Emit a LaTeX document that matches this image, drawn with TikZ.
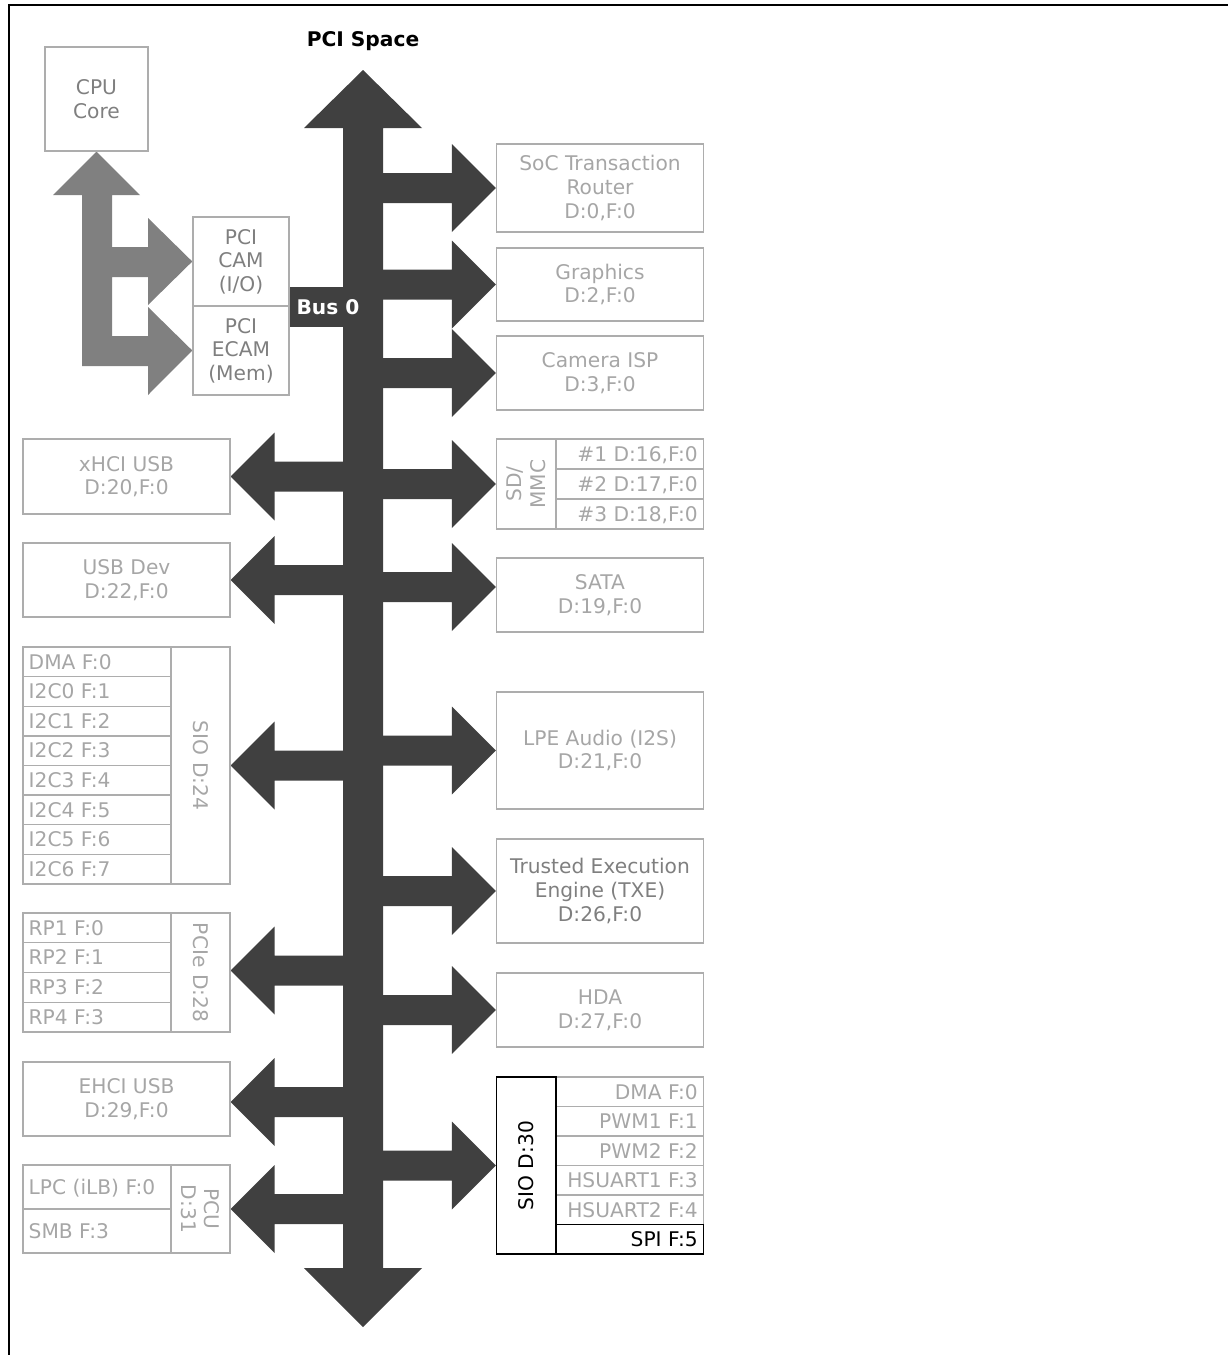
\documentclass[tikz,border=0pt]{standalone}
\usepackage{fontspec}
\setmainfont{DejaVu Sans}
\usetikzlibrary{fit,calc,backgrounds}
\definecolor{busc}{HTML}{404040}
\definecolor{armc}{HTML}{808080}
\definecolor{lgray}{HTML}{A6A6A6}
\definecolor{mgray}{HTML}{7F7F7F}
\definecolor{bordc}{HTML}{ADADAD}
\newcommand\ft{\fontsize{10.1}{11.8}\selectfont}
\newcommand\busR[1]{\fill[busc] (#1) -- ++(-44,-44) -- ++(0,29) -- ++(-75,0) -- ++(0,30) -- ++(75,0) -- ++(0,29) -- cycle;}
\newcommand\busL[1]{\fill[busc] (#1) -- ++(44,-44) -- ++(0,29) -- ++(75,0) -- ++(0,30) -- ++(-75,0) -- ++(0,29) -- cycle;}
\begin{document}
\begin{tikzpicture}[x=0.5pt,y=-0.5pt,
  box/.style={draw=bordc, line width=0.7pt, inner sep=0pt},
  blk/.style={draw=black, line width=0.7pt, inner sep=0pt},
  txt/.style={font=\ft, text=lgray, inner sep=0pt, align=center},
  rowtxt/.style={font=\ft, text=lgray, inner sep=0pt, text height=0.73em, text depth=0pt}]
\useasboundingbox (0,0) rectangle (1228,1355);

% ---- title
\node[font=\ft\bfseries] (title) at (363,41) {PCI Space};

% ---- CPU side
\node[box, fit={(45,47)(148,151)}] (cpu) {};
\node[txt, text=mgray] (cput) at (cpu.center) {CPU\\Core};
\node[box, fit={(193,217)(289,306)}] (cam) {};
\node[txt, text=mgray] (camt) at (cam.center) {PCI\\CAM\\(I/O)};
\node[box, fit={(193,306)(289,395)}] (ecam) {};
\node[txt, text=mgray] (ecamt) at (ecam.center) {PCI\\ECAM\\(Mem)};

% ---- right side boxes
\node[box, fit={(496.5,144)(703.5,232)}] (soc) {};
\node[txt] (soct) at (soc.center) {SoC Transaction\\Router\\D:0,F:0};
\node[box, fit={(496.5,248)(703.5,321)}] (gfx) {};
\node[txt] (gfxt) at (gfx.center) {Graphics\\D:2,F:0};
\node[box, fit={(496.5,336)(703.5,410)}] (isp) {};
\node[txt] (ispt) at (isp.center) {Camera ISP\\D:3,F:0};

\node[box, fit={(496.5,439)(703.5,529)}] (sd) {};
\node[box, fit={(496.5,439)(556,529)}] (sdl) {};
\node[txt, rotate=90] (sdt) at (sdl.center) {SD/\\MMC};
\node[box, fit={(556,439)(703.5,469)}] (sd1) {};
\node[box, fit={(556,469)(703.5,499)}] (sd2) {};
\node[box, fit={(556,499)(703.5,529)}] (sd3) {};
\node[rowtxt, anchor=east] (sd1t) at ([xshift=-3pt]sd1.east) {\#1 D:16,F:0};
\node[rowtxt, anchor=east] (sd2t) at ([xshift=-3pt]sd2.east) {\#2 D:17,F:0};
\node[rowtxt, anchor=east] (sd3t) at ([xshift=-3pt]sd3.east) {\#3 D:18,F:0};

\node[box, fit={(496.5,558)(703.5,632)}] (sata) {};
\node[txt] (satat) at (sata.center) {SATA\\D:19,F:0};
\node[box, fit={(496.5,692)(703.5,809)}] (lpe) {};
\node[txt] (lpet) at (lpe.center) {LPE Audio (I2S)\\D:21,F:0};
\node[box, fit={(496.5,839)(703.5,943)}] (txe) {};
\node[txt, text=mgray] (txet) at (txe.center) {Trusted Execution\\Engine (TXE)\\D:26,F:0};
\node[box, fit={(496.5,973)(703.5,1047)}] (hda) {};
\node[txt] (hdat) at (hda.center) {HDA\\D:27,F:0};

% SIO D:30
\foreach \t [count=\i from 0] in {DMA F:0, PWM1 F:1, PWM2 F:2, HSUART1 F:3, HSUART2 F:4} {
  \pgfmathsetmacro\ya{1077+\i*29.5}
  \pgfmathsetmacro\yb{\ya+29.5}
  \node[box, fit={(556,\ya)(703.5,\yb)}] (sioB\i) {};
  \node[rowtxt, anchor=east] (sioBt\i) at ([xshift=-3pt]sioB\i.east) {\t};
}
\node[blk, fit={(556,1224.5)(703.5,1254)}] (spi) {};
\node[rowtxt, text=black, anchor=east] (spit) at ([xshift=-3pt]spi.east) {SPI F:5};
\node[blk, fit={(496.5,1077)(556,1254)}] (sio30) {};
\node[txt, text=black, rotate=90] (sio30t) at (sio30.center) {SIO D:30};

% ---- left side boxes
\node[box, fit={(23,439)(230,514)}] (xhci) {};
\node[txt] (xhcit) at (xhci.center) {xHCI USB\\D:20,F:0};
\node[box, fit={(23,543)(230,617)}] (usbdev) {};
\node[txt] (usbdevt) at (usbdev.center) {USB Dev\\D:22,F:0};

% SIO D:24
\foreach \t [count=\i from 0] in {DMA F:0, I2C0 F:1, I2C1 F:2, I2C2 F:3, I2C3 F:4, I2C4 F:5, I2C5 F:6, I2C6 F:7} {
  \pgfmathsetmacro\ya{647+\i*29.625}
  \pgfmathsetmacro\yb{\ya+29.625}
  \node[box, fit={(23,\ya)(171,\yb)}] (sioA\i) {};
  \node[rowtxt, anchor=west] (sioAt\i) at ([xshift=3pt]sioA\i.west) {\t};
}
\node[box, fit={(171,647)(230,884)}] (sio24) {};
\node[txt, rotate=-90] (sio24t) at (sio24.center) {SIO D:24};

% PCIe D:28
\foreach \t [count=\i from 0] in {RP1 F:0, RP2 F:1, RP3 F:2, RP4 F:3} {
  \pgfmathsetmacro\ya{913+\i*29.75}
  \pgfmathsetmacro\yb{\ya+29.75}
  \node[box, fit={(23,\ya)(171,\yb)}] (pcieR\i) {};
  \node[rowtxt, anchor=west] (pcieRt\i) at ([xshift=3pt]pcieR\i.west) {\t};
}
\node[box, fit={(171,913)(230,1032)}] (pcie) {};
\node[txt, rotate=-90] (pciet) at (pcie.center) {PCIe D:28};

\node[box, fit={(23,1062)(230,1136)}] (ehci) {};
\node[txt] (ehcit) at (ehci.center) {EHCI USB\\D:29,F:0};

% PCU D:31
\node[box, fit={(23,1165)(171,1209)}] (lpc) {};
\node[rowtxt, anchor=west] (lpct) at ([xshift=3pt]lpc.west) {LPC (iLB) F:0};
\node[box, fit={(23,1209)(171,1253)}] (smb) {};
\node[rowtxt, anchor=west] (smbt) at ([xshift=3pt]smb.west) {SMB F:3};
\node[box, fit={(171,1165)(230,1253)}] (pcu) {};
\node[txt, rotate=-90] (pcut) at (pcu.center) {PCU\\D:31};

% ---- connectors (on background)
\begin{scope}[on background layer]
  % CPU <-> CAM/ECAM arm
  \fill[armc] (cpu.south) -- (140,195) -- (112,195) -- (112,247) -- (148,247) -- (148,218)
     -- (cam.west) -- (148,305) -- (148,277) -- (112,277) -- (112,336) -- (148,336) -- (148,307)
     -- (ecam.west) -- (148,395) -- (148,366) -- (82,366) -- (82,195) -- (53,195) -- cycle;
  % main bus
  \coordinate (bustop) at (363,70);
  \coordinate (busbot) at (363,1327);
  \fill[busc] (bustop) -- (422,128) -- (383,128) -- (383,1268) -- (422,1268) -- (busbot)
     -- (304,1268) -- (343,1268) -- (343,128) -- (304,128) -- cycle;
  % Bus 0 stub
  \fill[busc] ($(cam.south east)+(0,-20)$) rectangle (346,327);
  % right branches
  \busR{soc.west}
  \busR{gfx.west}
  \busR{isp.west}
  \busR{sd.west}
  \busR{$(sata.west)+(0,-8)$}
  \busR{lpe.west}
  \busR{txe.west}
  \busR{hda.west}
  \busR{sio30.west}
  % left branches
  \busL{xhci.east}
  \busL{usbdev.east}
  \busL{sio24.east}
  \busL{$(pcie.east)+(0,-2)$}
  \busL{$(ehci.east)+(0,3)$}
  \busL{pcu.east}
\end{scope}
\node[font=\ft\bfseries, text=white] (bus0) at (328,307) {Bus 0};

% ---- frame
\draw[line width=1pt] (8.5,1355) -- (8.5,5) -- (1228,5);
\end{tikzpicture}
\end{document}
